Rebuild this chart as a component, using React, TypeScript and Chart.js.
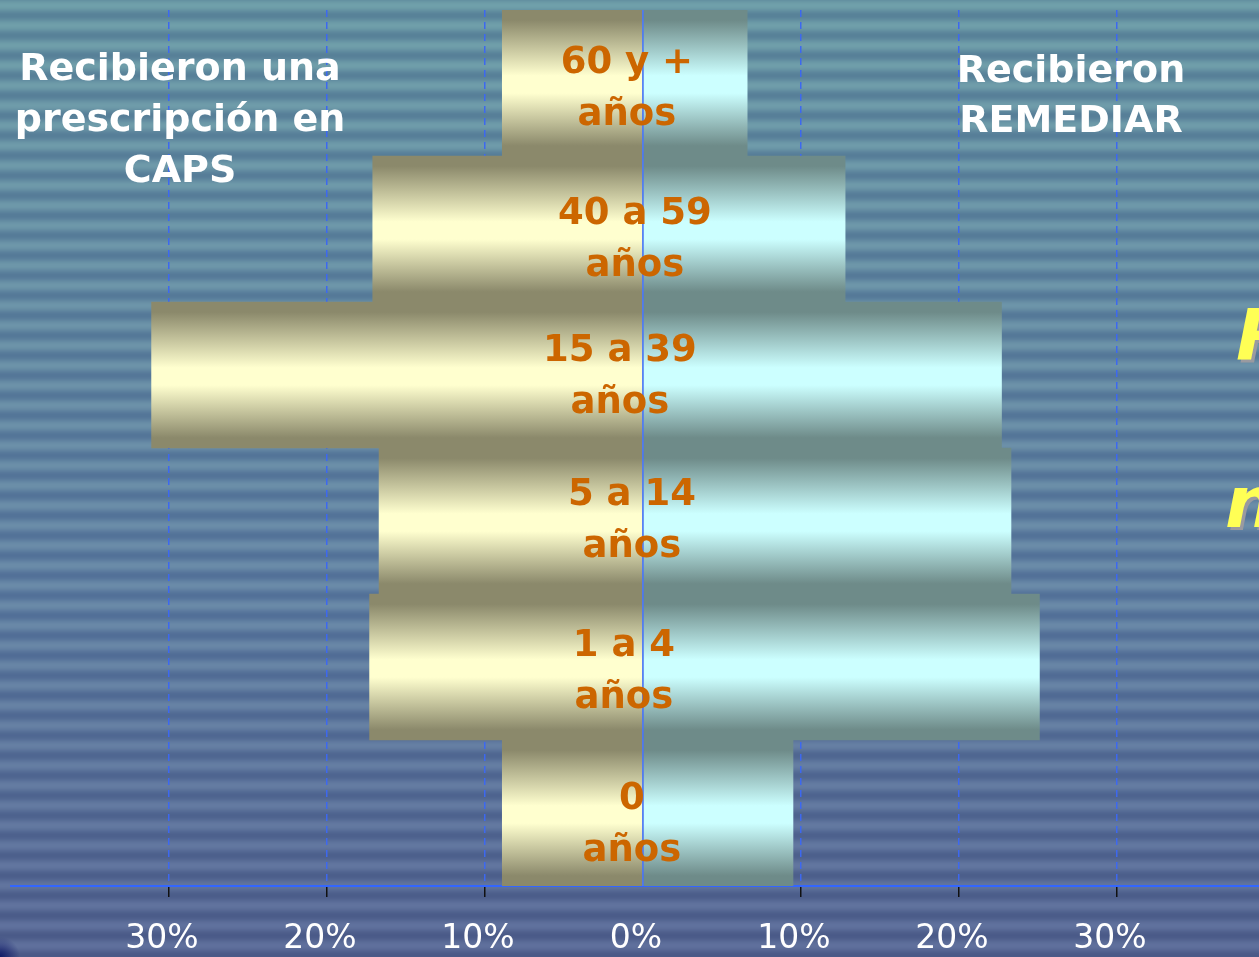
import React, { useEffect, useRef } from "react";
import { Chart, registerables } from "chart.js";

Chart.register(...registerables);

// ---- data ----
const AGE_GROUPS: string[][] = [
  ["60 y +", "años"],
  ["40 a 59", "años"],
  ["15 a 39", "años"],
  ["5 a 14", "años"],
  ["1 a 4", "años"],
  ["0", "años"],
];
const CAPS_PCT = [8.9, 17.1, 31.1, 16.7, 17.3, 8.9];
const REMEDIAR_PCT = [6.6, 12.8, 22.7, 23.3, 25.1, 9.5];
const TICK_VALUES = [-30, -20, -10, 0, 10, 20, 30];
const LEFT_TITLE = ["Recibieron una", "prescripción en", "CAPS"];
const RIGHT_TITLE = ["Recibieron", "REMEDIAR"];
const CUT_TEXT = ["R", "n"];

// ---- layout / style constants ----
const W = 1259;
const H = 957;
const LABEL_DX = [-16, -8, -23, -11, -19, -11];
const LABEL_DY = [0, 5, -4, -6, -1, 6];

const mix = (a: number[], b: number[], t: number) => a.map((v, i) => v + (b[i] - v) * t);

const bgPlugin = {
  id: "stripedBg",
  beforeDraw(chart: any) {
    const ctx = chart.ctx as CanvasRenderingContext2D;
    const stops = [
      { y: 0, light: [112, 160, 170], dark: [88, 130, 152] },
      { y: 600, light: [106, 138, 168], dark: [82, 112, 152] },
      { y: H, light: [95, 111, 156], dark: [74, 89, 135] },
    ];
    const P = 20;
    ctx.save();
    for (let y = 0; y < H; y++) {
      let s0 = stops[0], s1 = stops[1];
      if (y > stops[1].y) { s0 = stops[1]; s1 = stops[2]; }
      const t = (y - s0.y) / (s1.y - s0.y);
      const light = mix(s0.light, s1.light, t);
      const dark = mix(s0.dark, s1.dark, t);
      const s = 0.5 + 0.5 * Math.sin((2 * Math.PI * y) / P);
      const c = mix(dark, light, s).map((v) => Math.round(v));
      ctx.fillStyle = `rgb(${c[0]},${c[1]},${c[2]})`;
      ctx.fillRect(0, y, W, 1);
    }
    const rg = ctx.createRadialGradient(0, H, 0, 0, H, 20);
    rg.addColorStop(0, "rgba(10,20,100,0.9)");
    rg.addColorStop(1, "rgba(10,20,100,0)");
    ctx.fillStyle = rg;
    ctx.fillRect(0, H - 20, 20, 20);
    ctx.restore();
  },
};

const overlayPlugin = {
  id: "overlay",
  afterDatasetsDraw(chart: any) {
    const ctx = chart.ctx as CanvasRenderingContext2D;
    const xs = chart.scales.x;
    const ys = chart.scales.y;
    const x0 = xs.getPixelForValue(0);
    ctx.save();
    // zero line over bars
    ctx.strokeStyle = "#4a78ff";
    ctx.lineWidth = 1.5;
    ctx.beginPath();
    ctx.moveTo(x0, chart.chartArea.top);
    ctx.lineTo(x0, chart.chartArea.bottom);
    ctx.stroke();

    // category labels
    ctx.font = 'bold 37px "DejaVu Sans"';
    ctx.fillStyle = "#cc6600";
    ctx.textAlign = "center";
    ctx.textBaseline = "alphabetic";
    AGE_GROUPS.forEach((lines, i) => {
      const yc = ys.getPixelForValue(i) + LABEL_DY[i];
      const xc = x0 + LABEL_DX[i];
      ctx.fillText(lines[0], xc, yc - 10);
      ctx.fillText(lines[1], xc, yc + 42);
    });

    // titles
    ctx.font = 'bold 38px "DejaVu Sans"';
    ctx.fillStyle = "#ffffff";
    LEFT_TITLE.forEach((t, i) => ctx.fillText(t, 180, 80 + i * 51));
    RIGHT_TITLE.forEach((t, i) => ctx.fillText(t, 1071, 82 + i * 50));

    // cut-off italic text at right edge
    ctx.font = 'italic bold 72px "DejaVu Sans"';
    ctx.textAlign = "left";
    const pos = [
      [1236, 360],
      [1225, 527],
    ];
    CUT_TEXT.forEach((t, i) => {
      ctx.fillStyle = "#9a9aa0";
      ctx.fillText(t, pos[i][0] + 3, pos[i][1] + 3);
      ctx.fillStyle = "#ffff55";
      ctx.fillText(t, pos[i][0], pos[i][1]);
    });
    ctx.restore();
  },
};

function barGradient(ctx: any, dark: string, light: string) {
  const chart = ctx.chart;
  const ys = chart.scales && chart.scales.y;
  if (!ys || ctx.type !== "data" || !isFinite(ys.top)) return dark;
  const h = (ys.bottom - ys.top) / AGE_GROUPS.length;
  const yc = ys.getPixelForValue(ctx.dataIndex);
  const g = chart.ctx.createLinearGradient(0, yc - h / 2, 0, yc + h / 2);
  g.addColorStop(0, dark);
  g.addColorStop(0.07, dark);
  g.addColorStop(0.45, light);
  g.addColorStop(0.57, light);
  g.addColorStop(0.93, dark);
  g.addColorStop(1, dark);
  return g;
}

export default function App() {
  const ref = useRef<HTMLCanvasElement | null>(null);
  useEffect(() => {
    if (!ref.current) return;
    const chart = new Chart(ref.current, {
      type: "bar",
      data: {
        labels: AGE_GROUPS.map((l) => l.join(" ")),
        datasets: [
          {
            label: "Recibieron una prescripción en CAPS",
            data: CAPS_PCT.map((v) => -v),
            backgroundColor: (c: any) => barGradient(c, "#8b896b", "#ffffcf"),
            borderWidth: 0,
            barPercentage: 1,
            categoryPercentage: 1,
          },
          {
            label: "Recibieron REMEDIAR",
            data: REMEDIAR_PCT,
            backgroundColor: (c: any) => barGradient(c, "#6e8b89", "#ccffff"),
            borderWidth: 0,
            barPercentage: 1,
            categoryPercentage: 1,
          },
        ],
      },
      options: {
        indexAxis: "y",
        responsive: false,
        animation: false,
        devicePixelRatio: 1,
        layout: { padding: { left: 11, right: 0, top: 10, bottom: 0 } },
        plugins: {
          legend: { display: false },
          tooltip: { enabled: false },
        },
        scales: {
          x: {
            type: "linear",
            min: -40,
            max: 39,
            stacked: true,
            afterBuildTicks: (scale: any) => {
              scale.ticks = TICK_VALUES.map((v) => ({ value: v }));
            },
            afterFit: (scale: any) => {
              scale.height = 71;
            },
            ticks: {
              color: "#ffffff",
              font: { family: "DejaVu Sans", size: 33 },
              padding: 23,
              labelOffset: -7,
              maxRotation: 0,
              autoSkip: false,
              callback: (v: any) => Math.abs(Number(v)) + "%",
            },
            grid: {
              color: (c: any) => (c.tick && c.tick.value === 0 ? "rgba(0,0,0,0)" : "#3d68f0"),
              lineWidth: 1.5,
              tickColor: (c: any) => (c.tick && c.tick.value === 0 ? "rgba(0,0,0,0)" : "#111111"),
              tickLength: 11,
              tickWidth: 1.5,
            },
            border: { display: true, color: "#3366ff", width: 2, dash: [7, 5] },
          },
          y: {
            type: "category",
            stacked: true,
            display: false,
          },
        },
      },
      plugins: [bgPlugin, overlayPlugin],
    } as any);
    return () => chart.destroy();
  }, []);
  return (
    <div style={{ position: "fixed", left: 0, top: 0, width: W, height: H, overflow: "hidden" }}>
      <canvas ref={ref} width={W} height={H} style={{ display: "block", width: W, height: H }} />
    </div>
  );
}
